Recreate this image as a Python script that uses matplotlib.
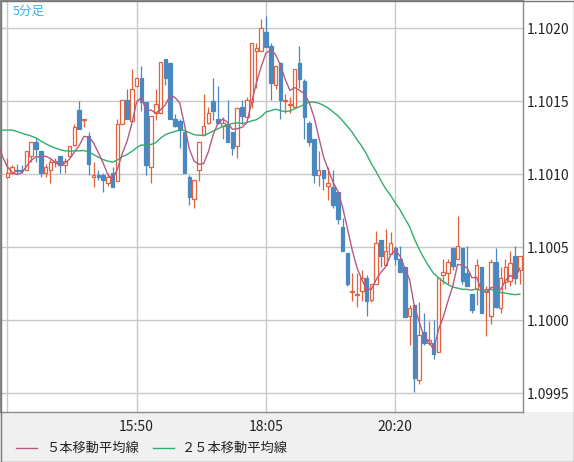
import matplotlib
matplotlib.use("Agg")
import matplotlib.pyplot as plt
import numpy as np
import pandas as pd
from matplotlib.lines import Line2D
from matplotlib.patches import Rectangle

plt.rcParams['font.family'] = ['Noto Sans CJK JP', 'DejaVu Sans']

# ---- data (5-minute candles, 13:35 .. 22:30) ----
opens = [1.10098, 1.10101, 1.10103, 1.10103, 1.10103, 1.10112, 1.10122, 1.10116, 1.10101, 1.10103,
         1.10108, 1.10112, 1.10106, 1.10112, 1.10120, 1.10144, 1.10137, 1.10126, 1.10098, 1.10099,
         1.10099, 1.10094, 1.10101, 1.10095, 1.10134, 1.10151, 1.10136, 1.10160, 1.10166, 1.10149,
         1.10105, 1.10142, 1.10142, 1.10179, 1.10176, 1.10138, 1.10136, 1.10129, 1.10098, 1.10083,
         1.10103, 1.10127, 1.10135, 1.10150, 1.10138, 1.10133, 1.10134, 1.10129, 1.10119, 1.10146,
         1.10139, 1.10149, 1.10184, 1.10184, 1.10197, 1.10188, 1.10161, 1.10176, 1.10150, 1.10147,
         1.10146, 1.10176, 1.10164, 1.10135, 1.10124, 1.10099, 1.10103, 1.10092, 1.10091, 1.10088,
         1.10064, 1.10046, 1.10019, 1.10017, 1.10020, 1.10029, 1.10014, 1.10025, 1.10055, 1.10038,
         1.10045, 1.10049, 1.10042, 1.10036, 1.10003, 1.10010, 1.09959, 1.09992, 1.09984, 1.09984,
         1.09978, 1.10031, 1.10032, 1.10049, 1.10042, 1.10049, 1.10032, 1.10018, 1.10021, 1.10036,
         1.10019, 1.10003, 1.10040, 1.10008, 1.10026, 1.10027, 1.10044, 1.10034]
highs = [1.10111, 1.10106, 1.10107, 1.10106, 1.10116, 1.10122, 1.10125, 1.10116, 1.10107, 1.10110,
         1.10111, 1.10112, 1.10111, 1.10119, 1.10134, 1.10150, 1.10138, 1.10129, 1.10108, 1.10103,
         1.10101, 1.10101, 1.10105, 1.10138, 1.10151, 1.10158, 1.10172, 1.10166, 1.10174, 1.10149,
         1.10140, 1.10158, 1.10177, 1.10179, 1.10176, 1.10141, 1.10138, 1.10129, 1.10099, 1.10096,
         1.10122, 1.10155, 1.10146, 1.10166, 1.10160, 1.10139, 1.10151, 1.10129, 1.10145, 1.10151,
         1.10153, 1.10190, 1.10190, 1.10206, 1.10208, 1.10190, 1.10175, 1.10177, 1.10155, 1.10153,
         1.10172, 1.10188, 1.10165, 1.10136, 1.10124, 1.10116, 1.10103, 1.10105, 1.10103, 1.10088,
         1.10070, 1.10046, 1.10032, 1.10032, 1.10034, 1.10031, 1.10025, 1.10061, 1.10055, 1.10062,
         1.10060, 1.10051, 1.10051, 1.10036, 1.10010, 1.10010, 1.10012, 1.10005, 1.09999, 1.10000,
         1.10029, 1.10042, 1.10042, 1.10049, 1.10071, 1.10049, 1.10051, 1.10018, 1.10042, 1.10036,
         1.10023, 1.10042, 1.10049, 1.10036, 1.10042, 1.10047, 1.10051, 1.10044]
lows = [1.10097, 1.10100, 1.10100, 1.10101, 1.10103, 1.10108, 1.10108, 1.10098, 1.10098, 1.10094,
        1.10105, 1.10101, 1.10101, 1.10112, 1.10119, 1.10131, 1.10132, 1.10099, 1.10091, 1.10096,
        1.10088, 1.10092, 1.10091, 1.10095, 1.10134, 1.10138, 1.10136, 1.10160, 1.10143, 1.10099,
        1.10094, 1.10137, 1.10142, 1.10161, 1.10138, 1.10132, 1.10118, 1.10101, 1.10079, 1.10077,
        1.10095, 1.10127, 1.10134, 1.10137, 1.10134, 1.10124, 1.10122, 1.10113, 1.10111, 1.10134,
        1.10139, 1.10145, 1.10159, 1.10184, 1.10187, 1.10151, 1.10158, 1.10138, 1.10142, 1.10142,
        1.10145, 1.10159, 1.10124, 1.10119, 1.10094, 1.10092, 1.10089, 1.10082, 1.10077, 1.10066,
        1.10047, 1.10023, 1.10013, 1.10009, 1.10013, 1.10003, 1.10012, 1.10025, 1.10036, 1.10038,
        1.10045, 1.10038, 1.10033, 1.10002, 1.09983, 1.09951, 1.09956, 1.09983, 1.09983, 1.09973,
        1.09978, 1.10025, 1.10025, 1.10034, 1.10042, 1.10025, 1.10023, 1.10005, 1.10010, 1.10005,
        1.09989, 1.09997, 1.10008, 1.10005, 1.10021, 1.10023, 1.10025, 1.10025]
closes = [1.10101, 1.10105, 1.10102, 1.10102, 1.10116, 1.10122, 1.10117, 1.10101, 1.10105, 1.10108,
          1.10109, 1.10106, 1.10109, 1.10119, 1.10132, 1.10131, 1.10138, 1.10107, 1.10099, 1.10098,
          1.10096, 1.10098, 1.10091, 1.10134, 1.10151, 1.10138, 1.10158, 1.10166, 1.10149, 1.10106,
          1.10140, 1.10148, 1.10177, 1.10166, 1.10138, 1.10133, 1.10130, 1.10101, 1.10084, 1.10096,
          1.10122, 1.10133, 1.10142, 1.10143, 1.10135, 1.10135, 1.10122, 1.10118, 1.10145, 1.10140,
          1.10151, 1.10190, 1.10186, 1.10200, 1.10187, 1.10162, 1.10174, 1.10151, 1.10151, 1.10148,
          1.10172, 1.10165, 1.10139, 1.10122, 1.10099, 1.10103, 1.10097, 1.10094, 1.10079, 1.10069,
          1.10047, 1.10025, 1.10020, 1.10018, 1.10029, 1.10013, 1.10025, 1.10053, 1.10044, 1.10047,
          1.10053, 1.10042, 1.10033, 1.10002, 1.10008, 1.09960, 1.09990, 1.09984, 1.09986, 1.09977,
          1.10029, 1.10033, 1.10040, 1.10037, 1.10051, 1.10027, 1.10023, 1.10007, 1.10038, 1.10005,
          1.10021, 1.10040, 1.10009, 1.10029, 1.10036, 1.10039, 1.10029, 1.10044]
# closes before the visible window (seen only through the moving averages)
prior_closes = [1.10101, 1.10101, 1.10105, 1.10125, 1.10132, 1.10140, 1.10147, 1.10150, 1.10152,
                1.10152, 1.10149, 1.10142, 1.10134, 1.10129, 1.10125, 1.10127, 1.10130, 1.10133,
                1.10133, 1.10140, 1.10146, 1.10136, 1.10124, 1.10110, 1.10096, 1.10094]

tick_pos = [0, 27, 54, 81]
tick_labels = ["", "15:50", "18:05", "20:20"]
price_ticks = [1.0995, 1.1000, 1.1005, 1.1010, 1.1015, 1.1020]
ma_labels = ["５本移動平均線", "２５本移動平均線"]
title = "5分足"

UP = "#e0633e"
DOWN = "#4a88c2"
MA5_C = "#b65a84"
MA25_C = "#2fae6e"
GRID = "#c8c8c8"

W, H = 574, 462
fig = plt.figure(figsize=(W / 100, H / 100), dpi=100, facecolor="#f0f0f0")
# white column for price labels (behind everything)
fig.patches.append(Rectangle((523 / W, 50 / H), 51 / W, 412 / H, transform=fig.transFigure,
                             facecolor="white", edgecolor="none", zorder=-5))
ax = fig.add_axes([0, 50 / H, 523 / W, 412 / H])
ax.set_facecolor("white")
ax.set_zorder(1)

n = len(closes)
x = np.arange(n)
O = np.array(opens); Hh = np.array(highs); L = np.array(lows); C = np.array(closes)
up = C >= O
colors = np.where(up, UP, DOWN)

ax.vlines(x, L, Hh, colors=colors, linewidth=0.9, zorder=3)
bottom = np.minimum(O, C)
height = np.maximum(np.abs(C - O), 0.000002)
ax.bar(x, height, bottom=bottom, width=0.74, color=np.where(up, "white", DOWN),
       edgecolor=colors, linewidth=0.9, zorder=4)

allc = pd.Series(prior_closes + closes)
xa = np.arange(-len(prior_closes), n)
ma5 = allc.rolling(5).mean().to_numpy()
ma25 = allc.rolling(25).mean().to_numpy()
m = xa >= -2
ax.plot(xa[m], ma25[m], color=MA25_C, linewidth=1.0, zorder=5)
ax.plot(xa[m], ma5[m], color=MA5_C, linewidth=1.0, zorder=6)

# axes limits (price per pixel: 0.001 / 146 px)
ax.set_xlim(-1.52, 107.66)
ax.set_ylim(1.1020 - 384 / 146 * 0.001, 1.1020 + 28 / 146 * 0.001)

ax.set_xticks(tick_pos)
ax.set_xticklabels(tick_labels)
ax.set_yticks(price_ticks)
ax.set_yticklabels([f"{v:.4f}" for v in price_ticks])
ax.yaxis.tick_right()
ax.tick_params(axis="y", length=0, pad=3, labelsize=10, labelcolor="#222222")
ax.tick_params(axis="x", length=0, pad=6, labelsize=10, labelcolor="#222222")
ax.grid(True, color=GRID, linewidth=1.0, zorder=0)
ax.set_axisbelow(True)
for s in ax.spines.values():
    s.set_color("#8a8a8a")
    s.set_linewidth(1.0)

ax.text(13 / 523, 1 - 11 / 412, title, transform=ax.transAxes, color="#3cb2ec",
        fontsize=9, va="center", ha="left", zorder=7)

# legend
ly = 14 / H
fig.add_artist(Line2D([16 / W, 37 / W], [ly, ly], color=MA5_C, linewidth=1.0, transform=fig.transFigure))
fig.text(46 / W, ly, ma_labels[0], fontsize=9.5, va="center", ha="left", color="#222222")
fig.add_artist(Line2D([153 / W, 174 / W], [ly, ly], color=MA25_C, linewidth=1.0, transform=fig.transFigure))
fig.text(182 / W, ly, ma_labels[1], fontsize=9.5, va="center", ha="left", color="#222222")

# outer frame
fig.patches.append(Rectangle((0.5 / W, 0.5 / H), (W - 1) / W, (H - 1) / H, transform=fig.transFigure,
                             facecolor="none", edgecolor="#777777", linewidth=1.0, zorder=10))

fig.savefig("out.png", dpi=100, facecolor=fig.get_facecolor())
